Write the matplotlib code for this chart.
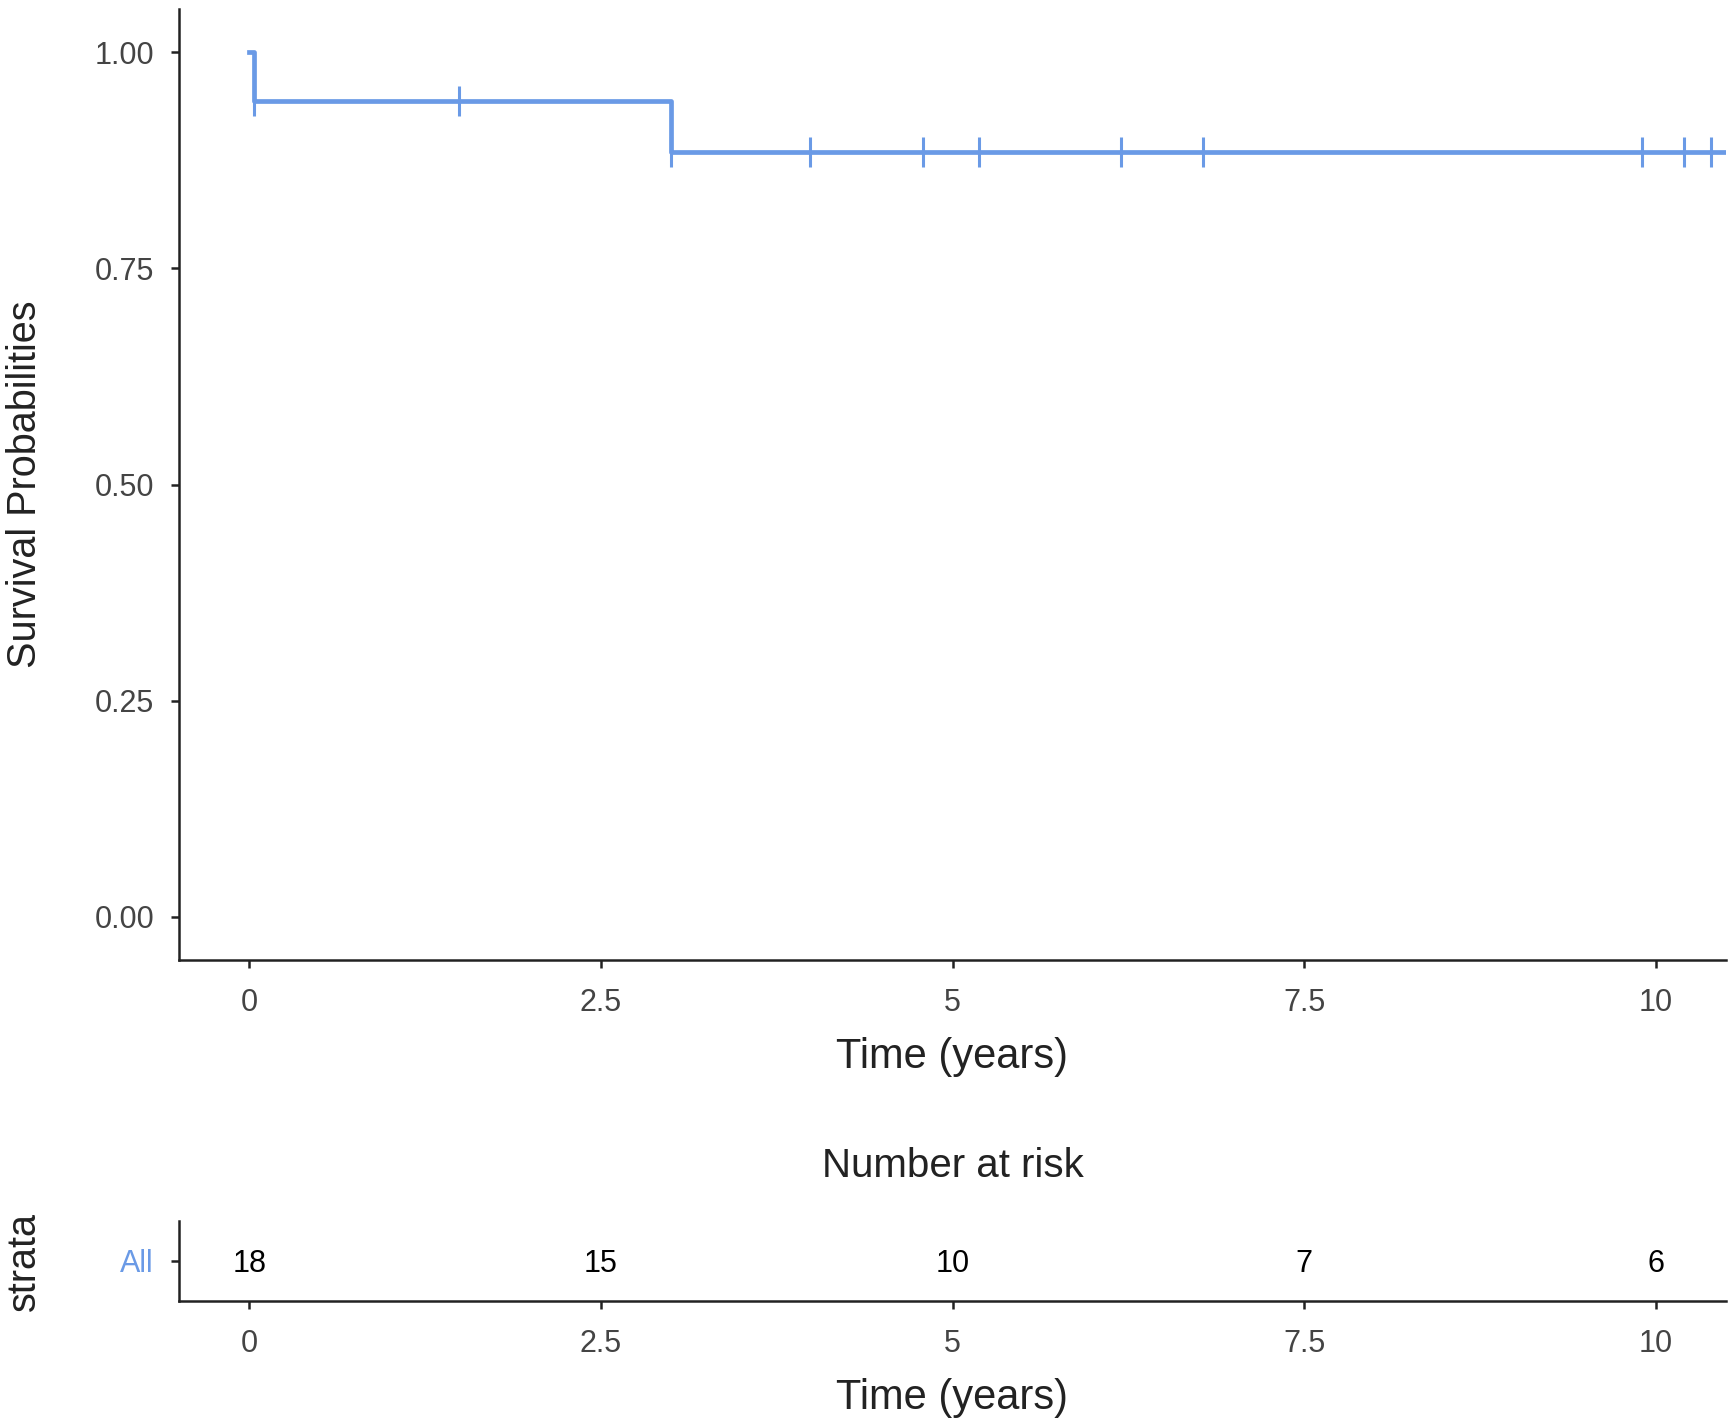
import numpy as np
import matplotlib
matplotlib.use("Agg")
import matplotlib.pyplot as plt

plt.rcParams['font.family'] = ['Liberation Sans', 'DejaVu Sans']

# Kaplan-Meier estimate (all patients)
step_times = [0.0, 0.03, 3.0, 10.6]
step_surv = [1.0, 0.944, 0.885, 0.885]
censor_times = [0.03, 1.49, 3.0, 3.99, 4.79, 5.19, 6.2, 6.78, 9.9, 10.2, 10.39]

# number at risk table
risk_times = [0, 2.5, 5, 7.5, 10]
risk_counts = [18, 15, 10, 7, 6]
strata = ['All']

x_ticks = [0, 2.5, 5, 7.5, 10]
x_ticklabels = ['0', '2.5', '5', '7.5', '10']
y_ticks = [0.0, 0.25, 0.5, 0.75, 1.0]
y_ticklabels = ['0.00', '0.25', '0.50', '0.75', '1.00']

blue = '#6A9AE6'
dark = '#222222'
tickcol = '#444444'

fig = plt.figure(figsize=(17.33, 14.25), dpi=100)

# survival curve
ax = fig.add_axes([0.1033, 0.3263, 0.8927, 0.6674])
ax.step(step_times, step_surv, where='post', color=blue, lw=3.4)
idx = np.searchsorted(step_times, censor_times, side='right') - 1
censor_surv = np.array(step_surv)[idx]
ax.plot(censor_times, censor_surv, ls='none', marker='|', ms=22, mew=2.2, color=blue)

ax.set_xlim(-0.5, 10.5)
ax.set_ylim(-0.05, 1.05)
ax.set_xticks(x_ticks)
ax.set_xticklabels(x_ticklabels)
ax.set_yticks(y_ticks)
ax.set_yticklabels(y_ticklabels)

# risk table
ax2 = fig.add_axes([0.1033, 0.0870, 0.8927, 0.0562])
for t, n in zip(risk_times, risk_counts):
    ax2.text(t, 0.96, str(n), ha='center', va='center', fontsize=22, color='black')
ax2.set_xlim(-0.5, 10.5)
ax2.set_ylim(0.5, 1.5)
ax2.set_xticks(x_ticks)
ax2.set_xticklabels(x_ticklabels)
ax2.set_yticks([1])
ax2.set_yticklabels(strata)

for a in (ax, ax2):
    for s in ('top', 'right'):
        a.spines[s].set_visible(False)
    for s in ('left', 'bottom'):
        a.spines[s].set_linewidth(1.8)
        a.spines[s].set_color(dark)
    a.tick_params(axis='both', length=6, width=1.8, color=dark, labelcolor=tickcol, labelsize=22)
    a.tick_params(axis='x', pad=14)
    a.tick_params(axis='y', pad=12)
ax2.tick_params(axis='y', labelcolor=blue, labelsize=22)

# axis titles
fig.text(0.0144, 0.6604, 'Survival Probabilities', rotation=90, ha='center', va='center',
         fontsize=28.5, color=dark)
fig.text(0.5496, 0.2579, 'Time (years)', ha='center', va='center', fontsize=30, color=dark)
fig.text(0.5496, 0.1818, 'Number at risk', ha='center', va='center', fontsize=29, color=dark)
fig.text(0.0138, 0.1144, 'strata', rotation=90, ha='center', va='center', fontsize=28.5, color=dark)
fig.text(0.5496, 0.0189, 'Time (years)', ha='center', va='center', fontsize=30, color=dark)

fig.savefig('out.png', dpi=100)
